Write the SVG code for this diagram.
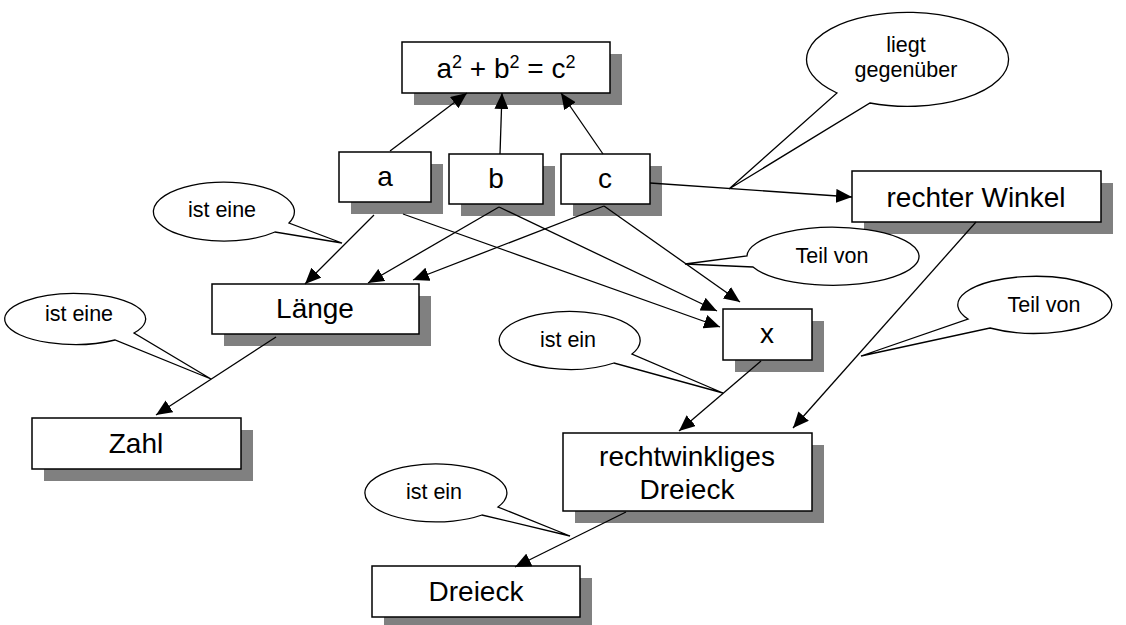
<svg xmlns="http://www.w3.org/2000/svg" width="1126" height="625" viewBox="0 0 1126 625">
<style>
.sh{fill:#808080;stroke:none}
.bx{fill:#fff;stroke:#000;stroke-width:1.5}
.t{font-family:"Liberation Sans",Arial,sans-serif;font-size:28px;fill:#000;text-anchor:middle}
.ct{font-family:"Liberation Sans",Arial,sans-serif;font-size:21.5px;fill:#000;text-anchor:middle}
.co{fill:#fff;stroke:#000;stroke-width:1.3;stroke-linejoin:miter}
.ln{fill:none;stroke:#000;stroke-width:1.3;marker-end:url(#ah)}
</style>
<defs>
<marker id="ah" markerUnits="userSpaceOnUse" markerWidth="16" markerHeight="14" refX="16" refY="7" orient="auto">
<path d="M0,0 L16,7 L0,14 Z" fill="#000"/>
</marker>
</defs>
<rect width="1126" height="625" fill="#fff"/>

<g id="n-formel">
<rect class="sh" x="414" y="54" width="208" height="51"/>
<rect class="bx" x="402" y="42" width="208" height="51"/>
<text class="t" x="506" y="78">a<tspan dy="-10" font-size="18">2</tspan><tspan dy="10"> + b</tspan><tspan dy="-10" font-size="18">2</tspan><tspan dy="10"> = c</tspan><tspan dy="-10" font-size="18">2</tspan></text>
</g>
<g id="n-a">
<rect class="sh" x="351" y="164" width="92" height="50"/>
<rect class="bx" x="339" y="152" width="92" height="50"/>
<text class="t" x="385" y="186">a</text>
</g>
<g id="n-b">
<rect class="sh" x="461" y="166" width="94" height="50"/>
<rect class="bx" x="449" y="154" width="94" height="50"/>
<text class="t" x="496" y="188">b</text>
</g>
<g id="n-c">
<rect class="sh" x="573" y="166" width="89" height="50"/>
<rect class="bx" x="561" y="154" width="89" height="50"/>
<text class="t" x="605" y="188">c</text>
</g>
<g id="n-rechterwinkel">
<rect class="sh" x="864" y="183" width="249" height="51"/>
<rect class="bx" x="852" y="171" width="249" height="51"/>
<text class="t" x="976" y="207">rechter Winkel</text>
</g>
<g id="n-laenge">
<rect class="sh" x="224" y="296" width="207" height="50"/>
<rect class="bx" x="212" y="284" width="207" height="50"/>
<text class="t" x="315" y="318">Länge</text>
</g>
<g id="n-zahl">
<rect class="sh" x="44" y="430" width="209" height="51"/>
<rect class="bx" x="32" y="418" width="209" height="51"/>
<text class="t" x="136" y="453">Zahl</text>
</g>
<g id="n-x">
<rect class="sh" x="735" y="321" width="89" height="51"/>
<rect class="bx" x="723" y="309" width="89" height="51"/>
<text class="t" x="767" y="343">x</text>
</g>
<g id="n-rechtwinkliges">
<rect class="sh" x="575" y="445" width="249" height="78"/>
<rect class="bx" x="563" y="433" width="249" height="78"/>
<text class="t" x="687" y="466">rechtwinkliges</text>
<text class="t" x="687" y="499">Dreieck</text>
</g>
<g id="n-dreieck">
<rect class="sh" x="384" y="578" width="208" height="51"/>
<rect class="bx" x="372" y="566" width="208" height="51"/>
<text class="t" x="476" y="601">Dreieck</text>
</g>

<g id="connectors">
<line class="ln" x1="390" y1="151" x2="467" y2="93"/>
<line class="ln" x1="500" y1="154" x2="502" y2="93"/>
<line class="ln" x1="603" y1="154" x2="561" y2="93"/>
<line class="ln" x1="374" y1="215" x2="305" y2="284"/>
<line class="ln" x1="403" y1="214" x2="720" y2="327"/>
<line class="ln" x1="499" y1="207" x2="368" y2="283"/>
<line class="ln" x1="499" y1="207" x2="717" y2="311"/>
<line class="ln" x1="604" y1="206" x2="413" y2="280"/>
<line class="ln" x1="604" y1="206" x2="740" y2="302"/>
<line class="ln" x1="650" y1="183" x2="852" y2="197"/>
<line class="ln" x1="976" y1="222" x2="793" y2="428"/>
<line class="ln" x1="276" y1="337" x2="156" y2="415"/>
<line class="ln" x1="761" y1="361" x2="679" y2="431"/>
<line class="ln" x1="626" y1="512" x2="515" y2="567"/>
</g>

<g id="c-liegt">
<path class="co" d="M837,93 A101,47 0 1 1 870,103 L729,189 Z"/>
<text class="ct" x="906" y="52">liegt</text>
<text class="ct" x="906" y="77">gegenüber</text>
</g>
<g id="c-isteine1">
<path class="co" d="M275,232 A70.5,29.5 0 1 1 289,223 L342,243 Z"/>
<text class="ct" x="222" y="217">ist eine</text>
</g>
<g id="c-isteine2">
<path class="co" d="M115,340 A70.5,25.5 0 1 1 134,333 L211,379 Z"/>
<text class="ct" x="79" y="321">ist eine</text>
</g>
<g id="c-teilvon1">
<path class="co" d="M747,256 A86,29 0 1 1 753,267 L685,264 Z"/>
<text class="ct" x="832" y="263">Teil von</text>
</g>
<g id="c-teilvon2">
<path class="co" d="M968,319 A77,28.5 0 1 1 990,328 L861,356 Z"/>
<text class="ct" x="1044" y="312">Teil von</text>
</g>
<g id="c-istein1">
<path class="co" d="M614,363 A70.5,29 0 1 1 632,354 L723,393 Z"/>
<text class="ct" x="568" y="347">ist ein</text>
</g>
<g id="c-istein2">
<path class="co" d="M482,515 A71,29 0 1 1 498,507 L570,536 Z"/>
<text class="ct" x="434" y="499">ist ein</text>
</g>
</svg>
